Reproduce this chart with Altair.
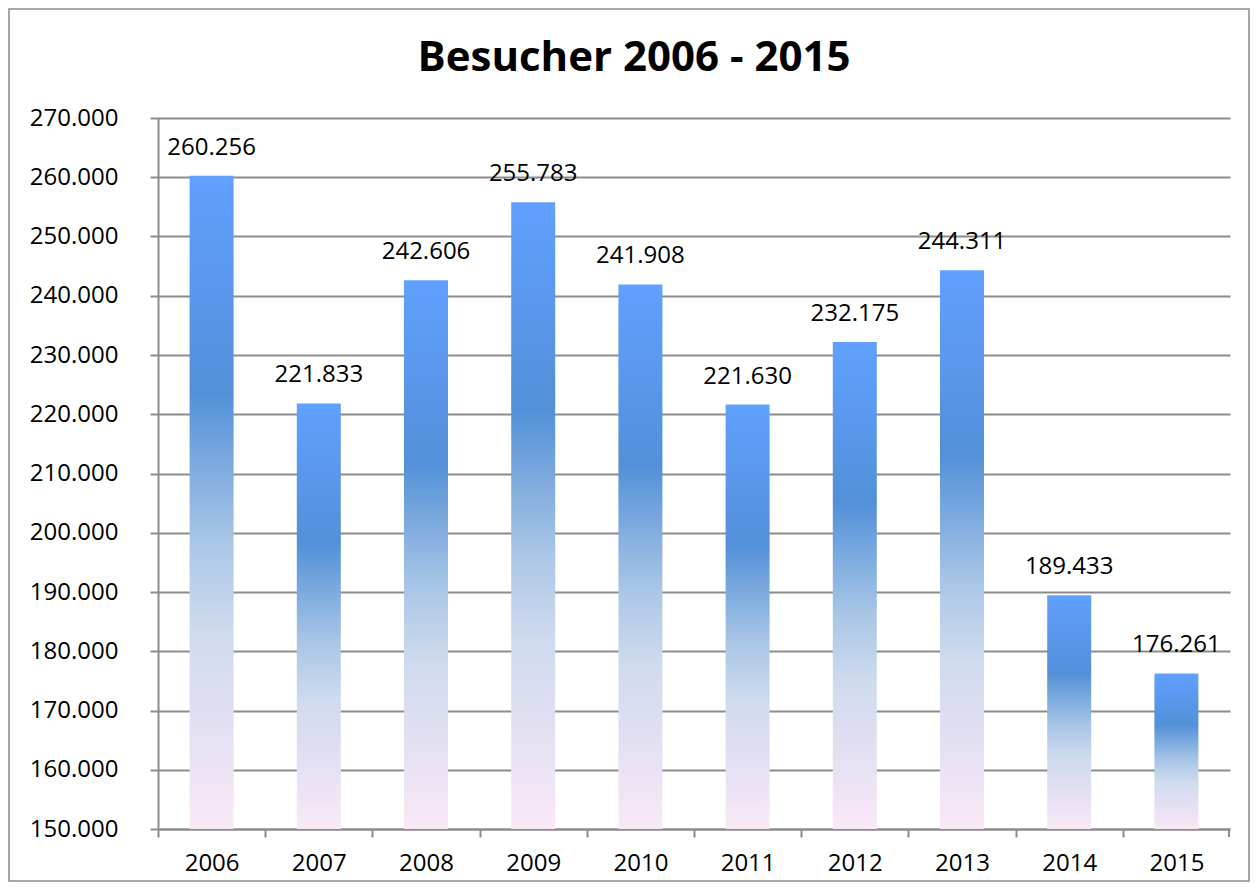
import altair as alt
import pandas as pd

years = ["2006", "2007", "2008", "2009", "2010", "2011", "2012", "2013", "2014", "2015"]
visitors = [260256, 221833, 242606, 255783, 241908, 221630, 232175, 244311, 189433, 176261]
y_ticks = [150000, 160000, 170000, 180000, 190000, 200000, 210000, 220000, 230000, 240000, 250000, 260000, 270000]
title_text = ["Besucher 2006 - 2015"]

df = pd.DataFrame({"Jahr": years, "Besucher": visitors})
df_title = pd.DataFrame({"t": title_text})

W, H = 1072, 711
FONT = "Open Sans"
GRID = "#8c8c8c"

grad = alt.Gradient(
    gradient="linear",
    x1=0, x2=0, y1=0, y2=1,
    stops=[
        alt.GradientStop(offset=0, color="#60a0ff"),
        alt.GradientStop(offset=0.33, color="#5290d8"),
        alt.GradientStop(offset=0.56, color="#a9c6e6"),
        alt.GradientStop(offset=0.7, color="#cfdbee"),
        alt.GradientStop(offset=0.85, color="#e4e0f2"),
        alt.GradientStop(offset=1, color="#fae8f7"),
    ],
)

label_expr = "replace(format(datum.value, ',d'), ',', '.')"

x_enc = alt.X(
    "Jahr:N",
    sort=years,
    scale=alt.Scale(paddingInner=0, paddingOuter=0),
    axis=alt.Axis(
        title=None, labelAngle=0, labelFont=FONT, labelFontSize=24, labelColor="#000000",
        domainColor=GRID, domainWidth=2, tickColor=GRID, tickWidth=2, tickSize=8,
        tickOffset=-53.6, labelOffset=53.6, labelPadding=14, grid=False,
    ),
)

y_scale = alt.Scale(domain=[150000, 270000], zero=False, nice=False)

bars = alt.Chart(df).mark_bar(size=44, color=grad).encode(
    x=x_enc,
    y=alt.Y(
        "Besucher:Q",
        scale=y_scale,
        axis=alt.Axis(
            title=None, values=y_ticks, labelExpr=label_expr, labelFont=FONT,
            labelFontSize=24, labelColor="#000000", labelPadding=32,
            domainColor=GRID, domainWidth=2, tickColor=GRID, tickWidth=2, tickSize=8,
            grid=True, gridColor=GRID, gridWidth=2,
        ),
    ),
    y2=alt.datum(150000),
)

labels = alt.Chart(df).transform_calculate(
    txt="replace(format(datum.Besucher, ',d'), ',', '.')"
).mark_text(font=FONT, fontSize=24, color="#000000", baseline="middle", dy=-28).encode(
    x=alt.X("Jahr:N", sort=years),
    y=alt.Y("Besucher:Q", scale=y_scale),
    text="txt:N",
)

end_tick = alt.Chart(df).mark_rule(color=GRID, strokeWidth=2).encode(
    x=alt.value(W - 1), y=alt.value(H), y2=alt.value(H + 8)
)

title = alt.Chart(df_title).mark_text(
    font=FONT, fontSize=42, fontWeight="bold", color="#000000", baseline="middle", align="center"
).encode(x=alt.value(476), y=alt.value(-60), text="t:N")

frame = alt.Chart(df_title).mark_rect(fill=None, stroke="#8c8c8c", strokeWidth=1.5, clip=False).encode(
    x=alt.value(-149), x2=alt.value(W + 19), y=alt.value(-109), y2=alt.value(H + 52)
)

chart = alt.layer(frame, bars, labels, end_tick, title).properties(
    width=W,
    height=H,
    autosize=alt.AutoSizeParams(type="none"),
    padding={"left": 150, "top": 110, "right": 20, "bottom": 53},
).configure_view(stroke=None)

chart.save("out.html", embed_options={"renderer": "svg", "actions": False})
